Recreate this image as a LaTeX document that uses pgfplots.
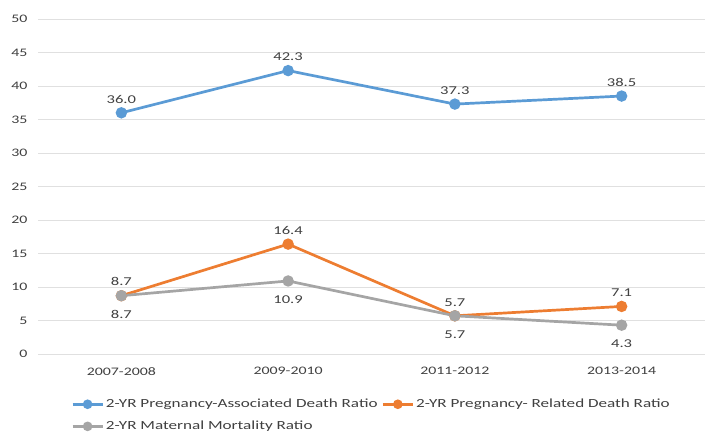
\documentclass[border=0pt]{standalone}
\usepackage{pgfplots}
\pgfplotsset{compat=1.18}
\usepackage{fontspec}
\setmainfont{Carlito}[FakeStretch=1.38]
\definecolor{cblue}{HTML}{5B9BD5}
\definecolor{corange}{HTML}{ED7D31}
\definecolor{cgray}{HTML}{A5A5A5}
\definecolor{ctext}{HTML}{404040}

\begin{document}
\begin{tikzpicture}
\useasboundingbox (-38pt,-83pt) rectangle (669pt,354pt);
\begin{axis}[
    scale only axis,
    width=667pt, height=335pt,
    xmin=-0.5, xmax=3.5, ymin=0, ymax=50,
    xtick={0,1,2,3},
    xticklabels={2007-2008,2009-2010,2011-2012,2013-2014},
    ytick={0,5,...,50},
    axis line style={draw=none},
    major tick length=0pt,
    ymajorgrids,
    grid style={black!12, line width=0.9pt},
    /pgf/number format/assume math mode=true,
    tick label style={font=\fontsize{11.5}{13}\selectfont, text=ctext},
    yticklabel style={xshift=-7pt},
    xticklabel style={yshift=-10pt},
    every axis plot/.append style={line width=2.7pt, mark=*, mark size=4.3pt},
    nodes near coords,
    point meta=explicit symbolic,
    every node near coord/.append style={font=\fontsize{12}{13}\selectfont, text=ctext},
    legend style={at={(0.5,0)}, anchor=north, yshift=-41pt, draw=none,
        font=\fontsize{12.4}{15}\selectfont, text=ctext,
        row sep=8pt,
        /tikz/every even column/.append style={column sep=2pt}},
    legend columns=2,
    legend cell align=left,
    legend image code/.code={
        \draw[mark repeat=2, mark phase=2, line width=2.5pt, mark size=3.5pt]
            plot coordinates {(0pt,0pt) (15pt,0pt) (30pt,0pt)};
    },
]
\addplot[color=cblue, every node near coord/.append style={anchor=south, yshift=5pt}]
    coordinates {(0,36.0)[36.0] (1,42.3)[42.3] (2,37.3)[37.3] (3,38.5)[38.5]};
\addlegendentry{2-YR Pregnancy-Associated Death Ratio}
\addplot[color=corange, every node near coord/.append style={anchor=south, yshift=5pt}]
    coordinates {(0,8.7)[8.7] (1,16.4)[16.4] (2,5.7)[5.7] (3,7.1)[7.1]};
\addlegendentry{2-YR Pregnancy- Related Death Ratio}
\addplot[color=cgray, every node near coord/.append style={anchor=north, yshift=-10pt}]
    coordinates {(0,8.7)[8.7] (1,10.9)[10.9] (2,5.7)[5.7] (3,4.3)[4.3]};
\addlegendentry{2-YR Maternal Mortality Ratio}
\end{axis}
\end{tikzpicture}
\end{document}
